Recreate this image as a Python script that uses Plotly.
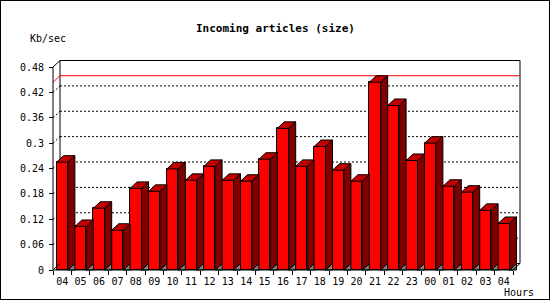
import plotly.graph_objects as go

# ---- data ----
hours = ["04", "05", "06", "07", "08", "09", "10", "11", "12", "13", "14", "15",
         "16", "17", "18", "19", "20", "21", "22", "23", "00", "01", "02", "03", "04"]
kb_per_sec = [0.255, 0.103, 0.146, 0.094, 0.193, 0.186, 0.239, 0.212, 0.245, 0.212,
              0.210, 0.262, 0.335, 0.245, 0.292, 0.236, 0.210, 0.444, 0.389, 0.259,
              0.300, 0.198, 0.184, 0.141, 0.110]
y_ticks = [0, 0.06, 0.12, 0.18, 0.24, 0.30, 0.36, 0.42, 0.48]
y_tick_text = ["0", "0.06", "0.12", "0.18", "0.24", "0.3", "0.36", "0.42", "0.48"]

# ---- layout constants (pixels) ----
W, H = 550, 300
X0 = 53.0        # pixel of left edge of first slot
SLOT = 18.4      # pixels per category
Y0 = 270.0       # pixel of value 0
YS = 422.9       # pixels per unit value
DX, DY = 7.0, 6.5  # 3D depth offset in pixels
PL, PR, PT, PB = 47, 527, 54, 275  # plot area in pixels
BW = 0.62        # bar width (category units)

dxu = DX / SLOT
dyu = DY / YS
n = len(hours)
xs = list(range(n))
xr = [-0.5 - (X0 - PL) / SLOT, -0.5 + (PR - X0) / SLOT]
yr = [-(PB - Y0) / YS, (Y0 - PT) / YS]
ymax = y_ticks[-1]
xl, xh = -0.5, n - 0.5

FONT = "DejaVu Sans Mono"

# ---- polygons for 3D faces, derived from data ----
top_x, top_y, side_x, side_y, tri_x, tri_y = [], [], [], [], [], []
for x, v in zip(xs, kb_per_sec):
    a, b = x - BW / 2, x + BW / 2
    top_x += [a, b, b + dxu, a + dxu, a, None]
    top_y += [v, v, v + dyu, v + dyu, v, None]
    side_x += [b, b, b + dxu, b + dxu, b, None]
    side_y += [0, v, v + dyu, dyu, 0, None]
    tri_x += [b, b + dxu, b + dxu, b, None]
    tri_y += [0, dyu, 0, 0, None]

fig = go.Figure()
fig.add_trace(go.Bar(x=xs, y=kb_per_sec, width=BW,
                     marker=dict(color="#ff0000", line=dict(color="black", width=1)),
                     hoverinfo="skip"))
fig.add_trace(go.Scatter(x=tri_x, y=tri_y, mode="lines", fill="toself",
                         fillcolor="#808080", line=dict(color="black", width=1),
                         hoverinfo="skip"))
fig.add_trace(go.Scatter(x=side_x, y=side_y, mode="lines", fill="toself",
                         fillcolor="#800000", line=dict(color="black", width=1),
                         hoverinfo="skip"))
fig.add_trace(go.Scatter(x=top_x, y=top_y, mode="lines", fill="toself",
                         fillcolor="#c00000", line=dict(color="black", width=1),
                         hoverinfo="skip"))

shapes = []
# back wall
shapes.append(dict(type="rect", xref="x", yref="y", x0=xl + dxu, x1=xh + dxu,
                   y0=dyu, y1=ymax + dyu, line=dict(color="black", width=1),
                   fillcolor="white", layer="below"))
# dotted grid lines on back wall and left wall
for v in y_ticks[1:-1]:
    shapes.append(dict(type="line", xref="x", yref="y", x0=xl + dxu, x1=xh + dxu,
                       y0=v + dyu, y1=v + dyu,
                       line=dict(color="black", width=1, dash="2px,2px"), layer="below"))
    shapes.append(dict(type="line", xref="x", yref="y", x0=xl, x1=xl + dxu,
                       y0=v, y1=v + dyu,
                       line=dict(color="black", width=1, dash="2px,2px"), layer="below"))
# max line (red)
m = max(kb_per_sec)
shapes.append(dict(type="line", xref="x", yref="y", x0=xl + dxu, x1=xh + dxu,
                   y0=m + dyu, y1=m + dyu, line=dict(color="#ff0000", width=1), layer="below"))
shapes.append(dict(type="line", xref="x", yref="y", x0=xl, x1=xl + dxu,
                   y0=m, y1=m + dyu, line=dict(color="#ff0000", width=1), layer="below"))
# front axes and wall edges
for (ax0, ay0, ax1, ay1) in [(xl, 0, xl, ymax), (xl, 0, xh, 0),
                             (xl, ymax, xl + dxu, ymax + dyu),
                             (xl, 0, xl + dxu, dyu),
                             (xh, 0, xh + dxu, dyu)]:
    shapes.append(dict(type="line", xref="x", yref="y", x0=ax0, y0=ay0, x1=ax1, y1=ay1,
                       line=dict(color="black", width=1), layer="above"))
# outer frame
shapes.append(dict(type="rect", xref="paper", yref="paper", x0=0, x1=1, y0=0, y1=1,
                   line=dict(color="black", width=2), layer="above"))

fig.update_layout(
    width=W, height=H,
    margin=dict(l=0, r=0, t=0, b=0, pad=0),
    paper_bgcolor="white", plot_bgcolor="white",
    showlegend=False,
    bargap=0,
    shapes=shapes,
    font=dict(family=FONT, size=10, color="black"),
    xaxis=dict(domain=[PL / W, PR / W], range=xr, anchor="free", position=1 - Y0 / H,
               showgrid=False, zeroline=False, showline=False,
               tickmode="array", tickvals=xs, ticktext=hours, ticks="",
               tickfont=dict(family=FONT, size=10, color="black"),
               minor=dict(tickmode="array", tickvals=[x - 0.5 for x in xs] + [xh],
                          ticks="outside", ticklen=4, tickcolor="black", tickwidth=1,
                          showgrid=False),
               ticklabelstandoff=4),
    yaxis=dict(domain=[1 - PB / H, 1 - PT / H], range=yr, anchor="free", position=X0 / W,
               showgrid=False, zeroline=False, showline=False,
               tickmode="array", tickvals=y_ticks, ticktext=y_tick_text,
               ticks="outside", ticklen=4, tickcolor="black", tickwidth=1,
               tickfont=dict(family=FONT, size=10, color="black"),
               ticklabelstandoff=3),
    annotations=[
        dict(text="<b>Incoming articles (size)</b>", xref="paper", yref="paper",
             x=0.5, y=1 - 28 / H, xanchor="center", yanchor="middle", showarrow=False,
             font=dict(family=FONT, size=11, color="black")),
        dict(text="Kb/sec", xref="paper", yref="paper", x=47.5 / W, y=1 - 38.5 / H,
             xanchor="center", yanchor="middle", showarrow=False,
             font=dict(family=FONT, size=10, color="black")),
        dict(text="Hours", xref="paper", yref="paper", x=519 / W, y=1 - 292 / H,
             xanchor="center", yanchor="middle", showarrow=False,
             font=dict(family=FONT, size=10, color="black")),
    ],
)

fig.write_html("out.html")
